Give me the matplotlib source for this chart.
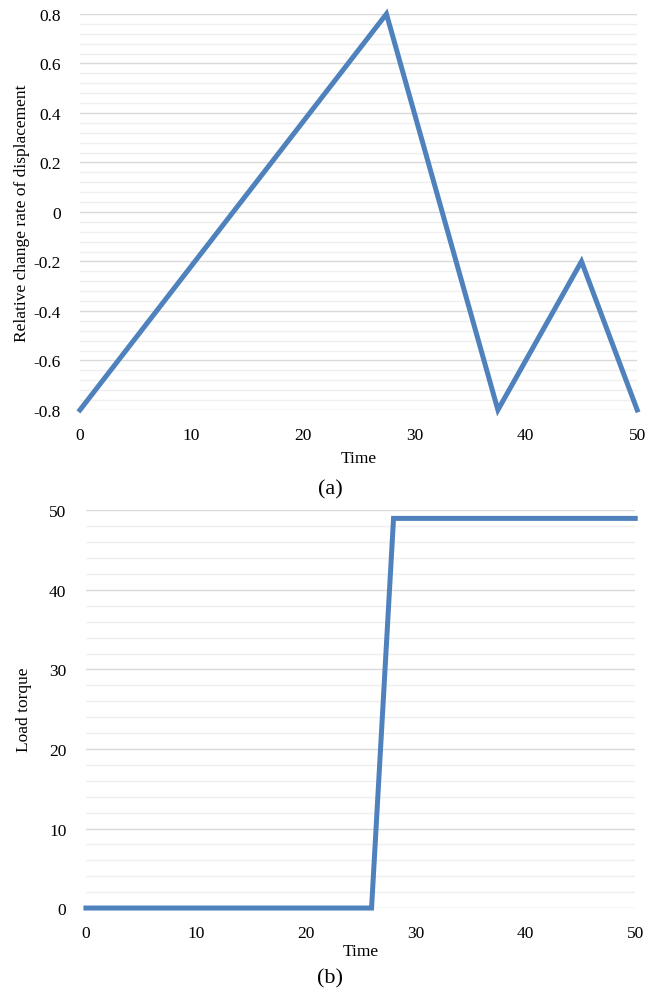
import matplotlib.pyplot as plt
from matplotlib.ticker import MultipleLocator

plt.rcParams['font.family'] = ['Liberation Serif', 'DejaVu Serif']

# (a) relative change rate of displacement
time_a = [0, 27.5, 37.5, 45, 50]
disp_a = [-0.8, 0.8, -0.8, -0.2, -0.8]

# (b) load torque
time_b = [0, 26, 28, 50]
torque_b = [0, 0, 49, 49]

line_color = '#4f81bd'

fig = plt.figure(figsize=(6.61, 9.95), dpi=100)
ax1 = fig.add_axes([0.121, 0.587, 0.843, 0.398])
ax2 = fig.add_axes([0.130, 0.0864, 0.831, 0.3996])


def style(ax):
    for s in ax.spines.values():
        s.set_visible(False)
    ax.tick_params(which='both', length=0, labelsize=12.5, colors='black')
    ax.tick_params(axis='x', pad=12)
    ax.tick_params(axis='y', pad=14)
    ax.grid(which='major', axis='y', color='#d9d9d9', lw=1.0)
    ax.grid(which='minor', axis='y', color='#efefef', lw=1.0)
    ax.set_axisbelow(True)


ax1.plot(time_a, disp_a, color=line_color, lw=3.6, solid_joinstyle='miter', clip_on=False)
ax1.set_xlim(0, 50)
ax1.set_ylim(-0.8, 0.8)
ax1.xaxis.set_major_locator(MultipleLocator(10))
ax1.yaxis.set_minor_locator(MultipleLocator(0.04))
ax1.set_yticks([-0.8, -0.6, -0.4, -0.2, 0, 0.2, 0.4, 0.6, 0.8])
ax1.set_yticklabels(['-0.8', '-0.6', '-0.4', '-0.2', '0', '0.2', '0.4', '0.6', '0.8'])
style(ax1)
ax1.set_xlabel('Time', fontsize=12.5, labelpad=5)
ax1.set_ylabel('Relative change rate of displacement', fontsize=12.5, labelpad=2)
fig.text(0.5, 0.508, '(a)', ha='center', va='center', fontsize=16)

ax2.plot(time_b, torque_b, color=line_color, lw=3.6, solid_joinstyle='miter', clip_on=False)
ax2.set_xlim(0, 50)
ax2.set_ylim(0, 50)
ax2.xaxis.set_major_locator(MultipleLocator(10))
ax2.yaxis.set_major_locator(MultipleLocator(10))
ax2.yaxis.set_minor_locator(MultipleLocator(2))
style(ax2)
ax2.set_xlabel('Time', fontsize=12.5, labelpad=2)
ax2.set_ylabel('Load torque', fontsize=12.5, labelpad=12)
fig.text(0.5, 0.016, '(b)', ha='center', va='center', fontsize=16)

fig.savefig('out.png', dpi=100)
